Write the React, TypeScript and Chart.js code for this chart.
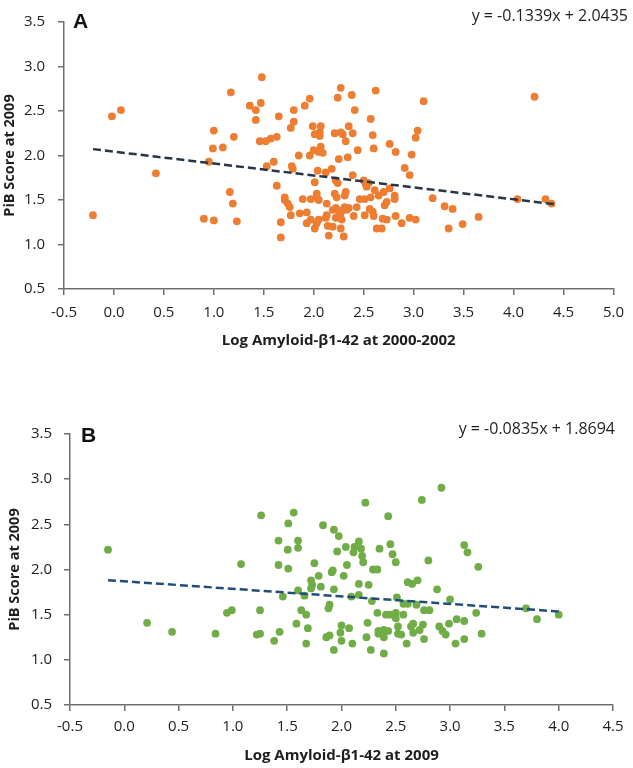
import React, { useEffect, useRef } from "react";
import { Chart, registerables } from "chart.js";

Chart.register(...registerables);

const FONT = "'Open Sans', Lato, sans-serif";

// ---------- Panel A data ----------
const aLogAmyloid = [
  -0.21, -0.02, 0.07, 0.42, 0.9, 1.0, 0.95, 0.99, 1.0, 1.09, 1.17, 1.2, 1.16, 1.19, 1.23, 1.36, 1.42, 1.42, 1.47, 1.48,
  1.46, 1.52, 1.57, 1.63, 1.65, 1.6, 1.53, 1.63, 1.67, 1.67, 1.71, 1.71, 1.74, 1.76, 1.77, 1.78, 1.79, 1.77, 1.8, 1.8,
  1.85, 1.86, 1.89, 1.91, 1.93, 1.93, 1.96, 1.96, 1.97, 1.97, 1.99, 2.0, 2.01, 2.01, 2.01,
  2.27, 2.24, 2.38, 2.62, 3.1, 2.41, 2.07, 2.21, 2.27, 2.29, 2.35, 2.39, 2.32, 2.06, 2.06, 2.57, 2.59, 2.6, 2.44, 2.34,
  2.25, 2.07, 2.05, 2.09, 2.76, 2.82, 3.04, 3.02, 2.98, 2.91, 2.96, 2.04, 2.12, 2.18, 2.39, 2.22, 2.24, 2.5, 2.52, 2.55,
  2.53, 2.61, 2.7, 2.76, 2.81, 2.81, 3.19, 3.31, 3.39, 3.35, 3.49, 2.03, 2.03, 2.05, 2.13, 2.21, 2.23, 2.32, 2.31, 2.46,
  2.51, 2.57, 2.65, 2.71, 2.73, 2.22, 2.24, 2.27, 2.31, 2.33, 2.35, 2.28, 2.22, 2.24, 2.13, 2.12, 2.19, 2.05, 2.03, 2.14,
  2.19, 2.27, 2.15, 2.3, 2.4, 2.43, 2.51, 2.56, 2.6, 2.59, 2.69, 2.73, 2.63, 2.68, 2.82, 2.88, 2.96, 3.02,
  4.21, 4.04, 4.32, 4.38, 3.65,
];
const aPiB = [
  1.33, 2.44, 2.51, 1.8, 1.29, 1.27, 1.93, 2.08, 2.28, 2.09, 2.71, 2.21, 1.59, 1.46, 1.26, 2.56, 2.51, 2.4, 2.59, 2.88,
  2.16, 2.16, 2.19, 2.21, 2.44, 1.93, 1.88, 1.66, 1.25, 1.08, 1.53, 1.5, 1.46, 1.42, 1.33, 1.88, 1.85, 2.31, 2.38, 2.51,
  2.0, 1.35, 1.51, 2.56, 1.36, 1.24, 2.64, 2.0, 1.51, 1.28, 2.33, 2.06, 2.24, 1.7, 1.18,
  2.76, 2.65, 2.68, 2.73, 2.61, 2.51, 2.33, 2.25, 2.26, 2.24, 2.33, 2.25, 2.16, 2.26, 2.22, 2.41, 2.23, 2.08, 2.06, 1.98,
  1.96, 2.1, 2.04, 2.03, 2.13, 2.04, 2.28, 2.2, 2.01, 1.86, 1.78, 1.83, 1.81, 1.85, 1.78, 1.72, 1.69, 1.72, 1.68, 1.69,
  1.65, 1.61, 1.59, 1.63, 1.55, 1.51, 1.52, 1.43, 1.4, 1.18, 1.23, 1.57, 1.52, 1.5, 1.46, 1.57, 1.53, 1.59, 1.55, 1.51,
  1.51, 1.53, 1.55, 1.44, 1.48, 1.41, 1.39, 1.35, 1.42, 1.39, 1.41, 1.28, 1.3, 1.31, 1.33, 1.3, 1.39, 1.28, 1.24, 1.21,
  1.2, 1.18, 1.1, 1.09, 1.32, 1.42, 1.33, 1.4, 1.32, 1.37, 1.29, 1.28, 1.18, 1.18, 1.32, 1.24, 1.3, 1.28,
  2.66, 1.51, 1.51, 1.46, 1.31,
];
const aTrendSlope = -0.1339;
const aTrendIntercept = 2.0435;
const aTrendRange = [-0.21, 4.41];
const aEquation = "y = -0.1339x + 2.0435";
const aXTitle = "Log Amyloid-\u03b21-42 at 2000-2002";

// ---------- Panel B data ----------
const bLogAmyloid = [
  -0.15, 0.21, 0.44, 0.84, 0.945, 0.99, 1.075, 1.26, 1.25, 1.22, 1.25, 1.38, 1.43, 1.42, 1.42, 1.46, 1.51, 1.505, 1.51,
  1.56, 1.6, 1.6, 1.6, 1.585, 1.63, 1.675, 1.66, 1.675, 1.69,
  2.92, 2.74, 2.22, 2.43, 1.72, 1.73, 1.72, 1.75, 1.79, 1.81, 1.83, 1.93, 1.975, 1.96, 1.91, 1.92, 2.02, 2.04, 2.05,
  2.11, 2.12, 2.16, 2.18, 2.19, 2.2, 2.35, 2.45, 2.47, 2.5, 2.29, 2.33, 2.16, 2.25, 1.93, 2.09, 2.16, 2.28, 2.51, 2.61,
  2.65, 2.7, 2.8, 2.88, 3.0, 3.13, 3.16, 3.26, 3.24, 3.29, 1.89, 1.88, 2.0, 1.99, 2.07, 1.86, 1.89, 2.0, 1.93, 2.1, 2.23,
  2.24, 2.27, 2.33, 2.34, 2.34, 2.39, 2.39, 2.39, 2.41, 2.45, 2.5, 2.5, 2.43, 2.52, 2.52, 2.55, 2.57, 2.57, 2.61, 2.69,
  2.6, 2.64, 2.66, 2.66, 2.72, 2.75, 2.76, 2.76, 2.81, 2.9, 2.93, 2.96, 2.99, 3.05, 3.06, 3.13, 3.13,
  3.7, 3.8, 4.0,
];
const bPiB = [
  2.22, 1.41, 1.31, 1.29, 1.52, 1.55, 2.06, 2.6, 1.55, 1.28, 1.29, 1.21, 1.31, 2.32, 2.05, 1.7, 2.51, 2.22, 2.01,
  2.63, 2.32, 2.24, 1.77, 1.4, 1.55, 1.5, 1.71, 1.18, 1.35,
  2.905, 2.77, 2.74, 2.59, 1.88, 1.83, 1.79, 2.07, 1.93, 1.81, 2.49, 2.44, 2.37, 2.2, 1.97, 1.99, 1.93, 2.25, 2.05,
  2.19, 2.25, 2.31, 2.23, 2.15, 2.08, 2.23, 2.28, 2.17, 2.08, 2.0, 2.0, 1.84, 1.83, 1.78, 1.7, 1.72, 1.65, 1.69, 1.86,
  1.84, 1.88, 2.1, 1.78, 1.67, 2.27, 2.19, 2.03, 1.52, 1.29, 1.61, 1.57, 1.38, 1.3, 1.35, 1.25, 1.27, 1.21, 1.11, 1.18, 1.25,
  1.41, 1.11, 1.52, 1.32, 1.29, 1.33, 1.25, 1.07, 1.5, 1.5, 1.52, 1.46, 1.32, 1.37, 1.29, 1.28, 1.5, 1.62, 1.62, 1.61,
  1.18, 1.37, 1.4, 1.3, 1.33, 1.39, 1.23, 1.55, 1.55, 1.37, 1.32, 1.28, 1.4, 1.18, 1.45, 1.43, 1.23,
  1.57, 1.45, 1.5,
];
const bTrendSlope = -0.0835;
const bTrendIntercept = 1.8694;
const bTrendRange = [-0.15, 4.0];
const bEquation = "y = -0.0835x + 1.8694";
const bXTitle = "Log Amyloid-\u03b21-42 at 2009";

const yTitle = "PiB Score at 2009";
const yRange = [0.5, 3.5];
const aXRange = [-0.5, 5.0];
const bXRange = [-0.5, 4.5];
const tickStep = 0.5;

type PanelProps = {
  top: number;
  height: number;
  xs: number[];
  ys: number[];
  slope: number;
  intercept: number;
  trendRange: number[];
  xRange: number[];
  xTitle: string;
  pointColor: string;
  lineColor: string;
  layoutPad: { top: number; right: number; bottom: number; left: number };
  yWidth: number;
  xHeight: number;
  yTickPad: number;
  xTickPad: number;
  xTitlePadBottom: number;
  yTitlePadTop: number;
};

function ScatterPanel(p: PanelProps) {
  const ref = useRef<HTMLCanvasElement>(null);
  useEffect(() => {
    if (!ref.current) return;
    const pts = p.xs.map((x, i) => ({ x, y: p.ys[i] }));
    const trend = p.trendRange.map((x) => ({ x, y: p.slope * x + p.intercept }));
    const axisColor = "#6e6e6e";
    const chart = new Chart(ref.current, {
      type: "scatter",
      data: {
        datasets: [
          {
            data: trend,
            showLine: true,
            borderColor: p.lineColor,
            borderWidth: 2.5,
            borderDash: [8, 4],
            pointRadius: 0,
            fill: false,
          } as any,
          {
            data: pts,
            backgroundColor: p.pointColor,
            borderWidth: 0,
            pointRadius: 3.9,
            pointHoverRadius: 3.9,
          },
        ],
      },
      options: {
        animation: false,
        responsive: false,
        maintainAspectRatio: false,
        events: [],
        plugins: { legend: { display: false }, tooltip: { enabled: false } },
        layout: { padding: p.layoutPad },
        scales: {
          x: {
            type: "linear",
            min: p.xRange[0],
            max: p.xRange[1],
            afterFit: (s: any) => {
              s.height = p.xHeight;
            },
            ticks: {
              stepSize: tickStep,
              autoSkip: false,
              maxRotation: 0,
              callback: (v: any) => Number(v).toFixed(1),
              font: { family: FONT, size: 15 },
              color: "#1e1e1e",
              padding: p.xTickPad,
            },
            grid: { drawOnChartArea: false, drawTicks: true, tickLength: 6, color: axisColor, lineWidth: 1.5 },
            border: { display: true, color: axisColor, width: 1.5 },
            title: {
              display: true,
              text: p.xTitle,
              font: { family: FONT, size: 15, weight: "bold" },
              color: "#1e1e1e",
              padding: { top: 0, bottom: p.xTitlePadBottom },
            },
          },
          y: {
            type: "linear",
            min: yRange[0],
            max: yRange[1],
            afterFit: (s: any) => {
              s.width = p.yWidth;
            },
            ticks: {
              stepSize: tickStep,
              callback: (v: any) => Number(v).toFixed(1),
              font: { family: FONT, size: 15 },
              color: "#1e1e1e",
              padding: p.yTickPad,
            },
            grid: { drawOnChartArea: false, drawTicks: true, tickLength: 6, color: axisColor, lineWidth: 1.5 },
            border: { display: true, color: axisColor, width: 1.5 },
            title: {
              display: true,
              text: yTitle,
              font: { family: FONT, size: 14.5, weight: "bold" },
              color: "#1e1e1e",
              padding: { top: p.yTitlePadTop, bottom: 0 },
            },
          },
        },
      },
    });
    return () => chart.destroy();
  }, []);
  return (
    <canvas
      ref={ref}
      width={633}
      height={p.height}
      style={{ position: "absolute", left: 0, top: p.top, width: 633, height: p.height }}
    />
  );
}

const letterStyle: React.CSSProperties = {
  position: "absolute",
  fontFamily: "'Liberation Sans', Arial, sans-serif",
  fontWeight: "bold",
  fontSize: 21,
  lineHeight: 1,
  color: "#111111",
};

const eqStyle: React.CSSProperties = {
  position: "absolute",
  fontFamily: FONT,
  fontSize: 16,
  lineHeight: 1,
  color: "#1e1e1e",
  whiteSpace: "nowrap",
  textAlign: "right",
};

export default function App() {
  return (
    <div style={{ position: "fixed", left: 0, top: 0, width: 633, height: 768, background: "#ffffff", overflow: "hidden" }}>
      <ScatterPanel
        top={0}
        height={365}
        xs={aLogAmyloid}
        ys={aPiB}
        slope={aTrendSlope}
        intercept={aTrendIntercept}
        trendRange={aTrendRange}
        xRange={aXRange}
        xTitle={aXTitle}
        pointColor="#ED7D31"
        lineColor="#263548"
        layoutPad={{ top: 11, right: 13, bottom: 0, left: 0 }}
        yWidth={64}
        xHeight={76}
        yTickPad={13}
        xTickPad={9}
        xTitlePadBottom={15}
        yTitlePadTop={1}
      />
      <ScatterPanel
        top={380}
        height={388}
        xs={bLogAmyloid}
        ys={bPiB}
        slope={bTrendSlope}
        intercept={bTrendIntercept}
        trendRange={bTrendRange}
        xRange={bXRange}
        xTitle={bXTitle}
        pointColor="#70AD47"
        lineColor="#1F4E79"
        layoutPad={{ top: 54, right: 20, bottom: 0, left: 0 }}
        yWidth={70}
        xHeight={63}
        yTickPad={12}
        xTickPad={7}
        xTitlePadBottom={3}
        yTitlePadTop={6}
      />
      <div style={{ ...letterStyle, left: 73, top: 9.5 }}>A</div>
      <div style={{ ...letterStyle, left: 81, top: 423.5 }}>B</div>
      <div style={{ ...eqStyle, right: 5, top: 7 }}>{aEquation}</div>
      <div style={{ ...eqStyle, right: 18, top: 420 }}>{bEquation}</div>
    </div>
  );
}
